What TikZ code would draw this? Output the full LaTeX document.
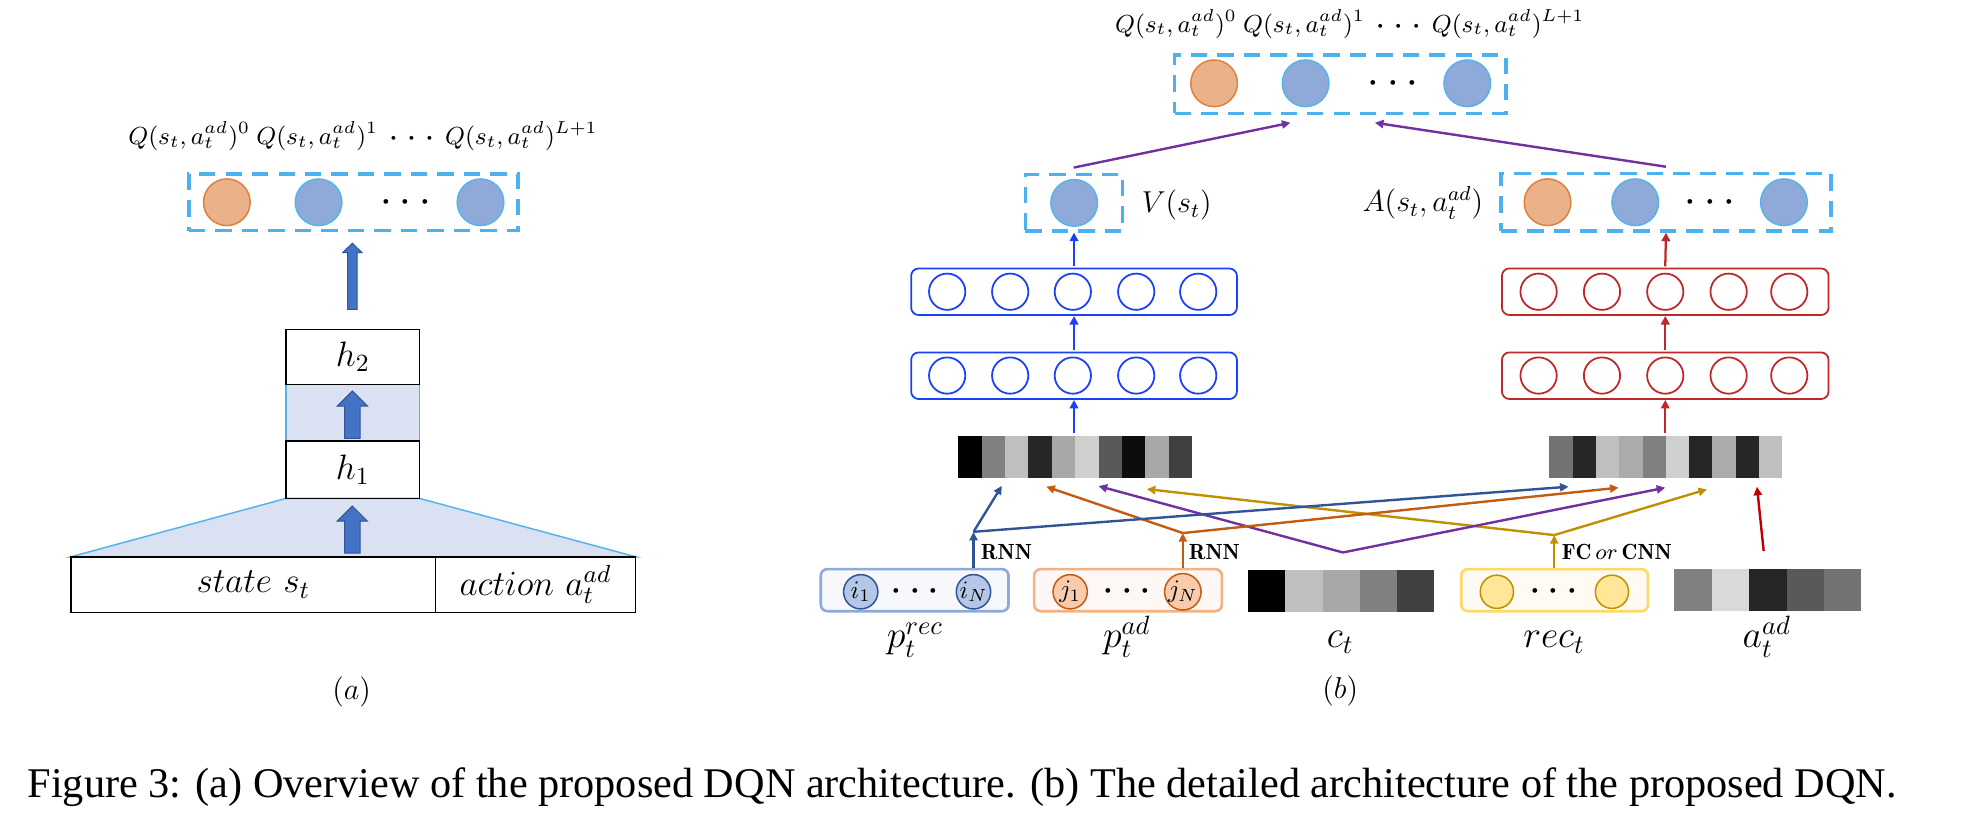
\RequirePackage{fix-cm}
\documentclass[tikz,border=0pt]{standalone}
\usepackage{amsmath}
\usepackage{fontspec}
\usepackage{graphicx}
\newfontfamily\capfont{Liberation Serif}
\usetikzlibrary{arrows.meta}
\definecolor{dashblue}{RGB}{77,177,237}
\definecolor{qorange}{RGB}{235,178,137}
\definecolor{qorangeb}{RGB}{224,128,64}
\definecolor{qblue}{RGB}{143,170,216}
\definecolor{qblueb}{RGB}{86,180,233}
\definecolor{barrow}{RGB}{68,114,196}
\definecolor{barrowb}{RGB}{47,85,151}
\definecolor{shadefill}{RGB}{218,225,242}
\definecolor{shadeline}{RGB}{86,180,233}
\definecolor{fcblue}{RGB}{25,65,250}
\definecolor{fcred}{RGB}{190,40,40}
\definecolor{arblue}{RGB}{47,85,151}
\definecolor{arorange}{RGB}{197,90,17}
\definecolor{arpurple}{RGB}{112,48,160}
\definecolor{argold}{RGB}{191,144,0}
\definecolor{arred}{RGB}{192,0,0}
\definecolor{precfill}{RGB}{246,248,252}
\definecolor{precb}{RGB}{142,170,219}
\definecolor{icirc}{RGB}{180,199,231}
\definecolor{padfill}{RGB}{253,248,245}
\definecolor{padb}{RGB}{244,177,131}
\definecolor{jcirc}{RGB}{248,203,173}
\definecolor{recfill}{RGB}{255,251,242}
\definecolor{recb}{RGB}{255,217,102}
\definecolor{rcirc}{RGB}{255,230,153}
\newcommand{\fs}[1]{\fontsize{#1}{#1}\selectfont}
\newcommand{\tdots}[1]{{\boldsymbol{\cdot}}\kern#1{\boldsymbol{\cdot}}\kern#1{\boldsymbol{\cdot}}}
\newcommand{\qlabel}{$Q(s_t,a_t^{ad})^0\kern2.5pt Q(s_t,a_t^{ad})^1\kern4.6pt\tdots{4pt}\kern4.6pt Q(s_t,a_t^{ad})^{L+1}$}
\newcommand{\myblockarrow}[6]{\draw[fill=barrow,draw=barrowb,line width=0.4pt] (#1-#4,#3) -- (#1-#4,#2+#6) -- (#1-#5,#2+#6) -- (#1,#2) -- (#1+#5,#2+#6) -- (#1+#4,#2+#6) -- (#1+#4,#3) -- cycle;}
\begin{document}
\begin{tikzpicture}[x=0.5pt,y=-0.5pt,
  dbox/.style={draw=dashblue, line width=1.3pt, dash pattern=on 6.5pt off 4pt, inner sep=0},
  qo/.style={circle, draw=qorangeb, fill=qorange, line width=0.6pt, minimum size=18.5pt, inner sep=0},
  qb/.style={circle, draw=qblueb, fill=qblue, line width=0.6pt, minimum size=18.5pt, inner sep=0},
  hbox/.style={draw=black, line width=0.6pt, inner sep=0, minimum width=53pt, font=\fs{14}},
  fcbl/.style={draw=fcblue, rounded corners=3pt, line width=0.7pt, minimum width=129.25pt, minimum height=18.5pt, inner sep=0},
  fcrd/.style={draw=fcred, rounded corners=3pt, line width=0.7pt, minimum width=129.6pt, minimum height=18.5pt, inner sep=0},
  fccb/.style={circle, draw=fcblue, line width=0.7pt, minimum size=14.4pt, inner sep=0},
  fccr/.style={circle, draw=fcred, line width=0.7pt, minimum size=14.4pt, inner sep=0},
  varrow/.style={line width=0.9pt, -{Triangle[length=3.4pt,width=3.4pt]}},
  conn/.style={line width=0.95pt, -{Triangle[length=3.4pt,width=3.2pt]}},
  bbox/.style={rounded corners=2.6pt, line width=1.05pt, minimum width=74.5pt, minimum height=16.7pt, inner sep=0},
  bcirc/.style={circle, line width=0.6pt, minimum size=13.6pt, inner sep=0, font=\fs{10}},
  blab/.style={anchor=base, font=\fs{15}},
  dotsnode/.style={inner sep=0, font=\fs{12}},
  ghost/.style={inner sep=0, minimum height=16.7pt}
]
\useasboundingbox (0,0) rectangle (1568,652.3);

% ---------------- part (a) ----------------
\node[font=\fs{9.8}] (qlabA) at (288,108) {\qlabel};
\node[dbox, minimum width=130.5pt, minimum height=22.5pt] (qboxA) at (280.5,160.5) {};
\node[qo] (qa0) at (180,160.5) {};
\node[qb] (qa1) at (252.8,160.5) {};
\node[dotsnode] (qadots) at (322,160.5) {$\tdots{4pt}$};
\node[qb] (qa2) at (381.3,160.5) {};
\myblockarrow{279.6}{193}{245.5}{3.7}{7.6}{7.4}

\fill[shadefill] (227,305) rectangle (333,350);
\draw[shadeline, line width=0.5pt] (227,305) -- (227,350) (333,305) -- (333,350);
\filldraw[fill=shadefill, draw=shadeline, line width=0.6pt] (227,395.5) -- (333,395.5) -- (504.3,441.8) -- (56.4,441.8) -- cycle;
\node[hbox, minimum height=21.8pt] (h2) at (280,283.2) {$h_2$};
\node[hbox, minimum height=22.75pt] (h1) at (280,372.75) {$h_1$};
\myblockarrow{279.6}{310.3}{347.9}{6.1}{11.9}{11.9}
\myblockarrow{279.6}{401.6}{439}{6.1}{11.9}{11.9}
\node[hbox, minimum width=144.6pt, minimum height=22.1pt] (state) at (201,463.9) {$state\ s_t$};
\node[hbox, minimum width=79.35pt, minimum height=22.1pt] (action) at (424.95,463.9) {$action\ a_t^{ad}$};
\node[font=\fs{12}] (labA) at (279,549) {$(a)$};

% ---------------- part (b) top ----------------
\node[font=\fs{9.8}] (qlabB) at (1071,19) {\qlabel};
\node[dbox, minimum width=131.4pt, minimum height=23.1pt] (qboxB) at (1063.6,66.8) {};
\node[qo] (qb0) at (963.4,66.1) {};
\node[qb] (qb1) at (1036,66.1) {};
\node[dotsnode] (qbdots) at (1105.4,66.1) {$\tdots{4pt}$};
\node[qb] (qb2) at (1164.3,66.1) {};

\node[dbox, minimum width=38.75pt, minimum height=22.5pt] (vbox) at (852.25,160.8) {};
\node[qb] (vc) at (852.4,161) {};
\node[anchor=west, font=\fs{12}] (vlab) at (899,163) {$V(s_t)$};

\node[dbox, minimum width=131pt, minimum height=22.85pt] (abox) at (1322,160.45) {};
\node[qo] (ac0) at (1228,160.5) {};
\node[qb] (ac1) at (1297.6,160.5) {};
\node[dotsnode] (acdots) at (1357,160.5) {$\tdots{4pt}$};
\node[qb] (ac2) at (1415.6,160.5) {};
\node[anchor=east, font=\fs{12}] (alab) at (1184,161) {$A(s_t,a_t^{ad})$};

\coordinate (vout) at (852,133);
\coordinate (qinL) at (1024,97.4);
\coordinate (aout) at (1322,132.3);
\coordinate (qinR) at (1091,97.4);
\draw[conn, arpurple] (vout) -- (qinL);
\draw[conn, arpurple] (aout) -- (qinR);

% FC layers (blue)
\node[fcbl] (fcL2) at (852.25,231.5) {};
\node[fcbl] (fcL1) at (852.25,298.15) {};
\foreach \x [count=\k] in {751.6,801.6,851.3,901.6,950.8} {
  \node[fccb] (bu\k) at (\x,231.5) {};
  \node[fccb] (bl\k) at (\x,298) {};
}
% FC layers (red)
\node[fcrd] (fcR2) at (1321.4,231.5) {};
\node[fcrd] (fcR1) at (1321.4,298.15) {};
\foreach \x [count=\k] in {1220.9,1271.2,1321.4,1371.7,1419.8} {
  \node[fccr] (ru\k) at (\x,231.5) {};
  \node[fccr] (rl\k) at (\x,298) {};
}

% gray bars
\node[ghost, minimum width=92.85pt] (lbar) at (853.15,362.7) {};
\foreach \c [count=\i from 0] in {black,black!50,black!25,black!85,black!34,black!19,black!65,black!95,black!34,black!75}
  \fill[\c] (760.3+\i*18.57,346) rectangle ++(18.6,33.4);
\node[ghost, minimum width=92.45pt] (rbar) at (1321.85,362.7) {};
\foreach \c [count=\i from 0] in {black!55,black!85,black!25,black!33,black!50,black!19,black!85,black!33,black!85,black!25}
  \fill[\c] (1229.4+\i*18.49,346) rectangle ++(18.52,33.4);

\draw[varrow, fcblue] (lbar.north -| fcL1.south) ++(0,-2) -- (fcL1.south);
\draw[varrow, fcblue] (fcL1.north) ++(0,-1) -- (fcL2.south);
\draw[varrow, fcblue] (fcL2.north) ++(0,-1) -- (vbox.south);
\draw[varrow, fcred] (rbar.north -| fcR1.south) ++(0,-2) -- (fcR1.south);
\draw[varrow, fcred] (fcR1.north) ++(0,-1) -- (fcR2.south);
\draw[varrow, fcred] (fcR2.north) ++(0,-1) -- (abox.south);

% ---------------- part (b) bottom ----------------
\node[bbox, draw=precb, fill=precfill] (prec) at (725.8,468.3) {};
\node[bcirc, draw=arblue, fill=icirc] (i1) at (683,469.6) {$i_1$};
\node[dotsnode] (idots) at (726,469.6) {$\tdots{3.6pt}$};
\node[bcirc, draw=arblue, fill=icirc] (iN) at (772.5,469.6) {$i_N$};

\node[bbox, draw=padb, fill=padfill] (pad) at (895.1,468.3) {};
\node[bcirc, draw=arorange, fill=jcirc] (j1) at (849.2,469.6) {$j_1$};
\node[dotsnode] (jdots) at (894.2,469.6) {$\tdots{3.6pt}$};
\node[bcirc, draw=arorange, fill=jcirc] (jN) at (938.6,469.6) {$j_N$};

\node[ghost, minimum width=73.75pt] (cbar) at (1064.25,469.05) {};
\foreach \c [count=\i from 0] in {black,black!25,black!34,black!50,black!75}
  \fill[\c] (990.5+\i*29.5,452.4) rectangle ++(29.55,33.3);

\node[bbox, draw=recb, fill=recfill, minimum width=74.1pt] (rec) at (1233.6,468.3) {};
\node[bcirc, draw=argold, fill=rcirc, minimum size=13.2pt] (r1) at (1187.8,469.6) {};
\node[dotsnode] (rdots) at (1232.8,469.6) {$\tdots{3.6pt}$};
\node[bcirc, draw=argold, fill=rcirc, minimum size=13.2pt] (r2) at (1279.1,469.6) {};

\node[ghost, minimum width=74.2pt] (aadbar) at (1402.8,468.3) {};
\foreach \c [count=\i from 0] in {black!50,black!15,black!85,black!65,black!55}
  \fill[\c] (1328.6+\i*29.68,451.6) rectangle ++(29.7,33.4);

\node[blab] (lprec) at (726,514) {$p_t^{rec}$};
\node[blab] (lpad) at (894.2,514) {$p_t^{ad}$};
\node[blab] (lct) at (1063.5,514) {$c_t$};
\node[blab] (lrec) at (1233.3,514) {$rec_t$};
\node[blab] (laad) at (1402,514) {$a_t^{ad}$};

\node[anchor=west, font=\fs{8.7}, inner sep=0] (rnn1) at (778,438.4) {$\mathbf{RNN}$};
\node[anchor=west, font=\fs{8.7}, inner sep=0] (rnn2) at (943,438.4) {$\mathbf{RNN}$};
\node[anchor=west, font=\fs{8.7}, inner sep=0] (fccnn) at (1239,438.4) {$\mathbf{FC}\,or\,\mathbf{CNN}$};

% connectors
\coordinate (bB) at (772.5,422);
\coordinate (bO) at (938.6,423);
\coordinate (bP) at (1065.6,438.4);
\coordinate (bG) at (1233.3,424.6);
\coordinate (aadtop) at (1399.5,437.3);
\coordinate (lA) at (795,385.5);
\coordinate (lB) at (830.2,386.2);
\coordinate (lC) at (871.7,385.7);
\coordinate (lD) at (910,388.1);
\coordinate (rA) at (1244.7,386.2);
\coordinate (rB) at (1284.4,387);
\coordinate (rC) at (1321.4,387);
\coordinate (rD) at (1354.5,388.3);
\coordinate (rE) at (1394.2,386.2);

\draw[conn, arblue] (prec.north -| iN) -- (bB);
\draw[conn, arorange] (pad.north -| jN) -- (bO);
\draw[conn, argold] (rec.north -| bG) -- (bG);
\draw[conn, argold] (bG) -- (lD);
\draw[conn, argold] (bG) -- (rD);
\draw[conn, arpurple] (bP) -- (lC);
\draw[conn, arpurple] (bP) -- (rC);
\draw[conn, arorange] (bO) -- (lB);
\draw[conn, arorange] (bO) -- (rB);
\draw[conn, arblue] (bB) -- (lA);
\draw[conn, arblue] (bB) -- (rA);
\draw[conn, arred] (aadtop) -- (rE);

\node[font=\fs{12}] (labB) at (1063.5,548) {$(b)$};

% caption
\node[anchor=base, font=\capfont\fs{15.8}, inner sep=0] (cap) at (763.5,633) {\resizebox{741.5pt}{!}{Figure 3: (a) Overview of the proposed DQN architecture. (b) The detailed architecture of the proposed DQN.}};
\end{tikzpicture}
\end{document}
